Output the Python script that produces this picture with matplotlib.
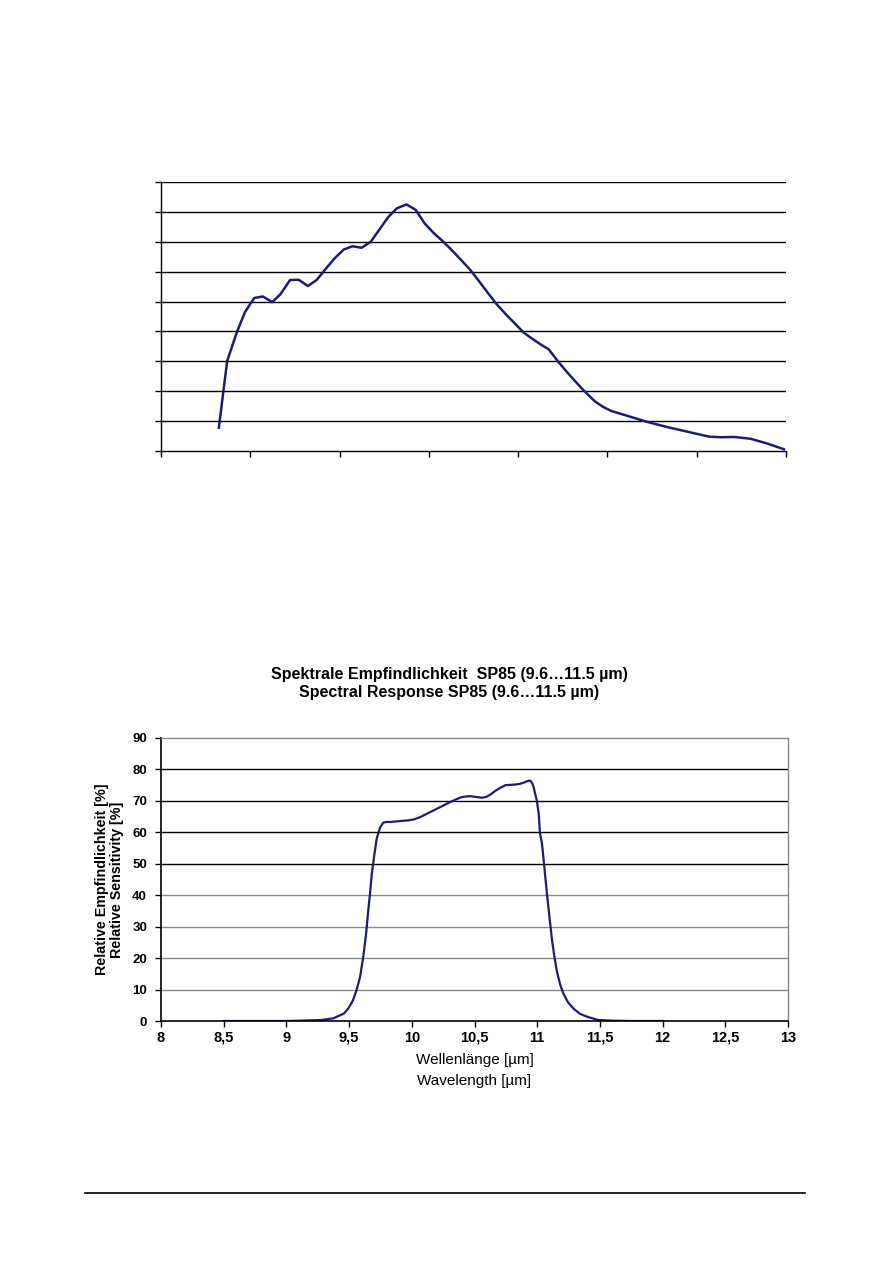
import matplotlib
matplotlib.use("Agg")
import matplotlib.pyplot as plt
from matplotlib.lines import Line2D

# ---- Top chart (labels cropped in source) ----
top_x = [0.648, 0.741, 0.848, 0.941, 1.044, 1.142, 1.244, 1.337, 1.445, 1.542, 1.645, 1.743,
         1.841, 1.943, 2.046, 2.144, 2.246, 2.349, 2.446, 2.549, 2.642, 2.749, 2.852, 2.954,
         3.052, 3.155, 3.257, 3.355, 3.458, 3.560, 3.658, 3.760, 3.863, 3.965, 4.063, 4.156,
         4.250, 4.343, 4.459, 4.553, 4.646, 4.739, 4.856, 4.949, 5.042, 5.252, 5.438, 5.671,
         5.904, 6.137, 6.277, 6.417, 6.603, 6.790, 6.976]
top_y = [7.8, 30.1, 39.6, 46.5, 51.2, 51.7, 49.8, 52.4, 57.2, 57.3, 55.2, 57.2,
         60.8, 64.4, 67.4, 68.5, 68.0, 70.0, 74.1, 78.4, 81.2, 82.5, 80.7, 76.1,
         73.0, 70.2, 67.2, 64.1, 60.8, 56.9, 53.0, 49.1, 45.7, 42.6, 39.6, 37.6,
         35.7, 34.0, 29.5, 26.2, 23.1, 20.1, 16.7, 14.8, 13.4, 11.5, 9.8, 8.0,
         6.4, 4.8, 4.6, 4.7, 4.1, 2.5, 0.6]
top_xticks = [0, 1, 2, 3, 4, 5, 6, 7]
top_yticks = [0, 10, 20, 30, 40, 50, 60, 70, 80, 90]

# ---- Bottom chart ----
title_lines = ["Spektrale Empfindlichkeit  SP85 (9.6\u202611.5 \u00b5m)",
               "Spectral Response SP85 (9.6\u202611.5 \u00b5m)"]
ylabel_text = "Relative Empfindlichkeit [%]\nRelative Sensitivity [%]"
xlabel_text = "Wellenl\u00e4nge [\u00b5m]\nWavelength [\u00b5m]"
wl = [8.5, 9.0, 9.11, 9.275, 9.374, 9.46, 9.494, 9.53, 9.56, 9.588, 9.613, 9.635, 9.653,
      9.668, 9.68, 9.699, 9.72, 9.747, 9.773, 9.80, 9.832, 9.911, 9.97, 10.017, 10.07,
      10.15, 10.23, 10.309, 10.389, 10.43, 10.468, 10.52, 10.561, 10.595, 10.627, 10.66,
      10.694, 10.747, 10.79, 10.826, 10.86, 10.893, 10.915, 10.932, 10.947, 10.959, 10.972,
      10.985, 10.996, 11.012, 11.022, 11.038, 11.058, 11.078, 11.098, 11.118, 11.137,
      11.158, 11.184, 11.208, 11.245, 11.288, 11.34, 11.395, 11.487, 11.6, 11.75, 12.0]
resp = [0.0, 0.0, 0.1, 0.3, 0.85, 2.4, 4.0, 6.5, 9.9, 14.1, 20.5, 27.5, 35.3,
        41.0, 46.5, 52.2, 58.0, 61.5, 63.1, 63.3, 63.3, 63.6, 63.8, 64.1, 64.9,
        66.5, 68.1, 69.7, 71.1, 71.4, 71.5, 71.2, 71.0, 71.3, 72.0, 73.0,
        73.9, 75.0, 75.1, 75.2, 75.4, 75.8, 76.2, 76.4, 76.4, 75.7, 74.3,
        72.0, 70.3, 66.0, 59.7, 56.5, 48.5, 40.3, 33.0, 25.8, 20.5,
        15.6, 11.5, 8.8, 6.0, 4.0, 2.3, 1.4, 0.3, 0.1, 0.0, 0.0]
xticks = [8, 8.5, 9, 9.5, 10, 10.5, 11, 11.5, 12, 12.5, 13]
xtick_labels = ["8", "8,5", "9", "9,5", "10", "10,5", "11", "11,5", "12", "12,5", "13"]
yticks = [0, 10, 20, 30, 40, 50, 60, 70, 80, 90]
dark_grid = [50, 60, 70, 80]
light_grid = [10, 20, 30, 40]

line_color = "#1c1c74"
narrow = ["Liberation Sans Narrow", "Liberation Sans"]

fig = plt.figure(figsize=(8.93, 12.63), dpi=100)
fig.patch.set_facecolor("white")

# Top axes
ax1 = fig.add_axes([161/893, 1-451/1263, 625/893, 269/1263])
ax1.plot(top_x, top_y, color=line_color, lw=1.8, solid_joinstyle="round")
ax1.set_xlim(0, 7)
ax1.set_ylim(0, 90)
ax1.set_xticks(top_xticks)
ax1.set_yticks(top_yticks)
ax1.set_xticklabels([])
ax1.set_yticklabels([])
ax1.tick_params(direction="out", length=4, width=1, color="black")
for v in top_yticks[1:]:
    ax1.axhline(v, color="black", lw=1.0, zorder=0)
ax1.spines["right"].set_visible(False)
ax1.spines["top"].set_visible(False)
for s in ["left", "bottom"]:
    ax1.spines[s].set_color("black")
    ax1.spines[s].set_linewidth(1.0)

# Bottom axes
ax2 = fig.add_axes([161/893, 1-1021/1263, 627/893, 283/1263])
for v in light_grid:
    ax2.axhline(v, color="#8a8a8a", lw=1.0, zorder=0)
for v in dark_grid:
    ax2.axhline(v, color="black", lw=1.0, zorder=0)
ax2.plot(wl, resp, color=line_color, lw=1.6, solid_joinstyle="round")
ax2.set_xlim(8, 13)
ax2.set_ylim(0, 90)
ax2.set_xticks(xticks)
ax2.set_xticklabels(xtick_labels)
ax2.set_yticks(yticks)
ax2.tick_params(axis="x", direction="out", length=4, width=1, color="black", pad=3)
ax2.tick_params(axis="y", direction="out", length=4, width=1, color="black", pad=6)
for lab in ax2.get_xticklabels():
    lab.set_fontfamily(narrow)
    lab.set_fontweight("bold")
    lab.set_fontsize(10.5)
for lab in ax2.get_yticklabels():
    lab.set_fontfamily("Liberation Sans")
    lab.set_fontweight("bold")
    lab.set_fontsize(9.5)
for s in ["top", "right"]:
    ax2.spines[s].set_color("#8a8a8a")
    ax2.spines[s].set_linewidth(1.0)
for s in ["left", "bottom"]:
    ax2.spines[s].set_color("black")
    ax2.spines[s].set_linewidth(1.2)

ax2.set_ylabel(ylabel_text, fontfamily="Liberation Sans", fontweight="bold",
               fontsize=10.3, labelpad=6, linespacing=1.1)
ax2.set_xlabel(xlabel_text, fontfamily=narrow, fontsize=11, labelpad=6, linespacing=1.6)

fig.text(449/893, 1-675/1263, title_lines[0], ha="center", va="center",
         fontfamily="Liberation Sans", fontweight="bold", fontsize=11.5)
fig.text(449/893, 1-692/1263, title_lines[1], ha="center", va="center",
         fontfamily="Liberation Sans", fontweight="bold", fontsize=11.5)

# page footer rule
fig.add_artist(Line2D([85/893, 805/893], [1-1193/1263, 1-1193/1263],
                      transform=fig.transFigure, color="black", lw=1.2))

fig.savefig("out.png", dpi=100, facecolor="white")
